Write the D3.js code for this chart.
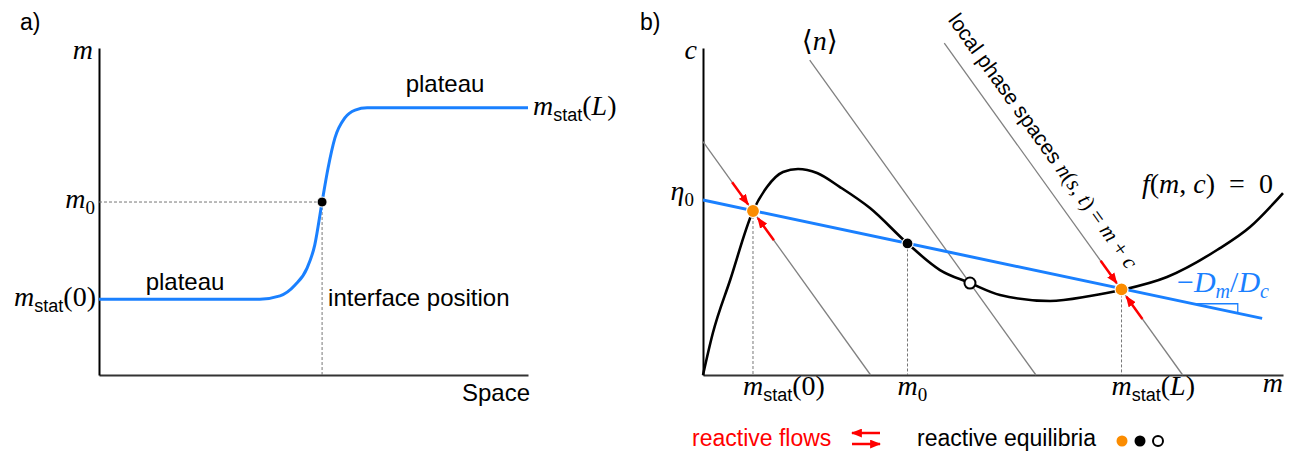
<!DOCTYPE html>
<html>
<head>
<meta charset="utf-8">
<script src="https://cdn.jsdelivr.net/npm/d3@7"></script>
<style>
body { margin: 0; background: #fff; }
.sans { font-family: "Liberation Sans", Arial, sans-serif; font-size: 23px; }
.big { font-size: 24px; }
.mi { font-family: "Liberation Serif", "DejaVu Serif", serif; font-style: italic; font-size: 28px; }
.rm { font-family: "Liberation Serif", "DejaVu Serif", serif; font-style: normal; font-size: 28px; }
.subs { font-family: "Liberation Sans", Arial, sans-serif; font-size: 18px; }
.subr { font-family: "Liberation Serif", serif; font-style: normal; font-size: 19px; }
.subi { font-family: "Liberation Serif", serif; font-style: italic; font-size: 19px; }
.rot .sans { font-size: 21px; }
.rot .mi, .rot .rm { font-size: 22px; }
.slope .mi, .slope .rm { font-size: 30px; }
.slope .subi { font-size: 20px; }
</style>
</head>
<body>
<div id="chart"></div>
<script>
// ---- panel a: interface profile m(x) ----
const profileSpace = [0, 37.5, 42.2, 45.7, 48.5, 50.3, 52.0, 53.4, 55.0, 57.3, 59.7, 62.5, 100];
const profileM = [23.2, 23.2, 24.2, 27.5, 32.7, 39.8, 52.9, 63.3, 72.5, 78.6, 81.0, 81.7, 81.7];
const interfaceSpace = 52.0;
const m0Level = 52.9;

// ---- panel b: phase plane (m, c) ----
const nullclineM = [0, 0.17, 0.47, 0.862, 1.103, 1.379, 1.638, 1.966, 2.362, 2.879, 3.526, 4.086, 4.603, 5.121, 5.983, 6.672, 7.216, 8.0, 8.862, 9.431, 10.0];
const nullclineC = [0, 0.52, 1.18, 2.031, 2.328, 2.514, 2.551, 2.502, 2.328, 2.068, 1.629, 1.300, 1.139, 0.991, 0.917, 0.978, 1.053, 1.214, 1.548, 1.833, 2.254];
const eta0 = 2.167;
const fluxSlope = -0.152;     // -Dm/Dc
const fluxEndM = 9.64;
const slopeMarkM = [8.45, 9.22];
const phaseSpaceN = [2.89, 5.74, 8.27];
const phaseSpaceTopC = [2.89, 3.90, 4.11];
const equilibriaM = [0.862, 3.526, 4.603, 7.216];
const equilibriaC = [2.031, 1.629, 1.139, 1.06];
const equilibriaKind = ["reactive", "mass", "unstable", "reactive"];
const dashedAt = [0, 1, 3];          // equilibria with a drop line to the m axis
const flowAt = [0, 3];               // reactive equilibria with flow arrows
const flowLine = [0, 2];             // ... on these phase spaces

const blue = "#1a80ff", orange = "#fb8c00", red = "#ff0000";

const svg = d3.select("#chart").append("svg")
    .attr("width", 1293)
    .attr("height", 454);

const defs = svg.append("defs");
defs.append("marker")
    .attr("id", "head")
    .attr("viewBox", "0 0 10 8")
    .attr("refX", 9).attr("refY", 4)
    .attr("markerUnits", "userSpaceOnUse")
    .attr("markerWidth", 11).attr("markerHeight", 9)
    .attr("orient", "auto")
    .append("path").attr("d", "M0,0 L10,4 L0,8 z").attr("fill", red);

// small helper for mixed math / text labels
function label(g, x, y, parts, anchor, fill) {
    const t = g.append("text")
        .attr("x", x).attr("y", y)
        .attr("text-anchor", anchor || "start")
        .attr("fill", fill || "#000");
    parts.forEach(p => {
        const s = t.append("tspan").attr("class", p[1]).text(p[0]);
        if (p[2]) s.attr("dy", p[2]);
    });
    return t;
}

// ===================== panel a =====================
const xA = d3.scaleLinear().domain([0, 100]).range([99, 528]);
const yA = d3.scaleLinear().domain([0, 100]).range([375, 48]);
const gA = svg.append("g");

gA.append("g")
    .attr("transform", `translate(0,${yA(0)})`)
    .call(d3.axisBottom(xA).tickValues([]).tickSizeOuter(0))
    .select(".domain").attr("stroke", "#333").attr("stroke-width", 2);
gA.append("g")
    .attr("transform", `translate(${xA(0)},0)`)
    .call(d3.axisLeft(yA).tickValues([]).tickSizeOuter(0))
    .select(".domain").attr("stroke", "#000").attr("stroke-width", 2);

// dashed guides to the interface point
gA.append("line")
    .attr("x1", xA(0)).attr("x2", xA(interfaceSpace))
    .attr("y1", yA(m0Level)).attr("y2", yA(m0Level))
    .attr("stroke", "#777").attr("stroke-width", 1).attr("stroke-dasharray", "3,2");
gA.append("line")
    .attr("x1", xA(interfaceSpace)).attr("x2", xA(interfaceSpace))
    .attr("y1", yA(m0Level)).attr("y2", yA(0))
    .attr("stroke", "#777").attr("stroke-width", 1).attr("stroke-dasharray", "3,2");

const profile = profileSpace.map((s, i) => [s, profileM[i]]);
gA.append("path")
    .datum(profile)
    .attr("fill", "none")
    .attr("stroke", blue)
    .attr("stroke-width", 3)
    .attr("d", d3.line().x(d => xA(d[0])).y(d => yA(d[1])).curve(d3.curveMonotoneX));

gA.append("circle")
    .attr("cx", xA(interfaceSpace)).attr("cy", yA(m0Level)).attr("r", 5)
    .attr("fill", "#000").attr("stroke", "#fff").attr("stroke-width", 1);

label(gA, 20, 30, [["a)", "sans"]]);
label(gA, 93, 59, [["m", "mi"]], "end");
label(gA, 95, yA(m0Level) + 6, [["m", "mi"], ["0", "subr", 6]], "end");
label(gA, 96, yA(profileM[0]) + 7, [["m", "mi"], ["stat", "subs", 6], ["(0)", "rm", -6]], "end");
label(gA, 533, yA(profileM[profileM.length - 1]) + 7, [["m", "mi"], ["stat", "subs", 6], ["(", "rm", -6], ["L", "mi"], [")", "rm"]]);
label(gA, 185, 290, [["plateau", "sans big"]], "middle");
label(gA, 445, 92, [["plateau", "sans big"]], "middle");
label(gA, xA(interfaceSpace) + 6, 306, [["interface position", "sans big"]]);
label(gA, 530, 401, [["Space", "sans big"]], "end");

// ===================== panel b =====================
const xB = d3.scaleLinear().domain([0, 10]).range([703, 1283]);
const yB = d3.scaleLinear().domain([0, 4.05]).range([375, 48]);
const gB = svg.append("g");

gB.append("g")
    .attr("transform", `translate(0,${yB(0)})`)
    .call(d3.axisBottom(xB).tickValues([]).tickSizeOuter(0))
    .select(".domain").attr("stroke", "#333").attr("stroke-width", 2);
gB.append("g")
    .attr("transform", `translate(${xB(0)},0)`)
    .call(d3.axisLeft(yB).tickValues([]).tickSizeOuter(0))
    .select(".domain").attr("stroke", "#000").attr("stroke-width", 2);

// drop lines
gB.selectAll(".drop")
    .data(dashedAt)
    .enter().append("line")
    .attr("class", "drop")
    .attr("x1", i => xB(equilibriaM[i])).attr("x2", i => xB(equilibriaM[i]))
    .attr("y1", i => yB(equilibriaC[i])).attr("y2", yB(0))
    .attr("stroke", "#777").attr("stroke-width", 1).attr("stroke-dasharray", "3,2");

// local phase spaces m + c = n
gB.selectAll(".phase")
    .data(phaseSpaceN)
    .enter().append("line")
    .attr("class", "phase")
    .attr("x1", (n, i) => xB(n - phaseSpaceTopC[i])).attr("y1", (n, i) => yB(phaseSpaceTopC[i]))
    .attr("x2", n => xB(n)).attr("y2", yB(0))
    .attr("stroke", "#808080").attr("stroke-width", 1.3);

// nullcline f(m,c)=0
const nullcline = nullclineM.map((m, i) => [m, nullclineC[i]]);
gB.append("path")
    .datum(nullcline)
    .attr("fill", "none")
    .attr("stroke", "#000")
    .attr("stroke-width", 2.6)
    .attr("d", d3.line().x(d => xB(d[0])).y(d => yB(d[1])).curve(d3.curveMonotoneX));

// flux-balance line
const fluxC = m => eta0 + fluxSlope * m;
gB.append("line")
    .attr("x1", xB(0)).attr("y1", yB(eta0))
    .attr("x2", xB(fluxEndM)).attr("y2", yB(fluxC(fluxEndM)))
    .attr("stroke", blue).attr("stroke-width", 3);

// slope triangle
gB.append("path")
    .attr("d", `M${xB(slopeMarkM[0])},${yB(fluxC(slopeMarkM[0]))}H${xB(slopeMarkM[1])}V${yB(fluxC(slopeMarkM[1]))}`)
    .attr("fill", "none").attr("stroke", blue).attr("stroke-width", 1.3);

// reactive flow arrows along the local phase spaces
flowAt.forEach((k, j) => {
    const n = phaseSpaceN[flowLine[j]];
    const m = equilibriaM[k];
    [[-0.36, -0.085], [0.36, 0.085]].forEach(([a, b]) => {
        gB.append("line")
            .attr("x1", xB(m + a)).attr("y1", yB(n - m - a))
            .attr("x2", xB(m + b)).attr("y2", yB(n - m - b))
            .attr("stroke", red).attr("stroke-width", 2.5)
            .attr("marker-end", "url(#head)");
    });
});

// equilibria
const fillOf = { reactive: orange, mass: "#000", unstable: "#fff" };
gB.selectAll(".eq")
    .data(equilibriaM)
    .enter().append("circle")
    .attr("class", "eq")
    .attr("cx", m => xB(m))
    .attr("cy", (m, i) => yB(equilibriaC[i]))
    .attr("r", (m, i) => equilibriaKind[i] === "reactive" ? 6.5 : 5.5)
    .attr("fill", (m, i) => fillOf[equilibriaKind[i]])
    .attr("stroke", (m, i) => equilibriaKind[i] === "unstable" ? "#000" : "#fff")
    .attr("stroke-width", (m, i) => equilibriaKind[i] === "unstable" ? 2 : 1.2);

// labels
label(gB, 640, 30, [["b)", "sans"]]);
label(gB, 697, 59, [["c", "mi"]], "end");
label(gB, 694, yB(eta0), [["η", "mi"], ["0", "subr", 6]], "end");
label(gB, xB(phaseSpaceN[1] - phaseSpaceTopC[1]) + 10, 50, [["⟨", "rm"], ["n", "mi"], ["⟩", "rm"]], "middle");
label(gB, 1142, 193, [["f", "mi"], ["(", "rm"], ["m", "mi"], [", ", "rm"], ["c", "mi"], [")\u2002=\u20020", "rm"]]);
label(gB.append("g").attr("class", "slope"), 1177, 292, [["−", "rm"], ["D", "mi"], ["m", "subi", 6], ["/", "rm", -6], ["D", "mi"], ["c", "subi", 6]], "start", blue);
label(gB, xB(equilibriaM[0]) - 10, 395, [["m", "mi"], ["stat", "subs", 6], ["(0)", "rm", -6]]);
label(gB, xB(equilibriaM[1]) - 10, 395, [["m", "mi"], ["0", "subr", 6]]);
label(gB, xB(equilibriaM[3]) - 10, 395, [["m", "mi"], ["stat", "subs", 6], ["(", "rm", -6], ["L", "mi"], [")", "rm"]]);
label(gB, 1283, 392, [["m", "mi"]], "end");

// rotated label along the last phase space
const topM = phaseSpaceN[2] - phaseSpaceTopC[2];
const ang = Math.atan2(yB(0) - yB(phaseSpaceTopC[2]), xB(phaseSpaceN[2]) - xB(topM)) * 180 / Math.PI;
const startM = topM - 0.17;
const rot = gB.append("g")
    .attr("class", "rot")
    .attr("transform", `translate(${xB(startM)},${yB(phaseSpaceN[2] - startM)}) rotate(${ang})`);
label(rot, 0, -16, [["local phase spaces ", "sans"], ["n", "mi"], ["(", "rm"], ["s", "mi"], [", ", "rm"], ["t", "mi"], [") = ", "rm"], ["m", "mi"], [" + ", "rm"], ["c", "mi"]]);

// legend
const gL = svg.append("g");
label(gL, 692, 446, [["reactive flows", "sans"]], "start", red);
[[880, 852, 433], [852, 880, 444]].forEach(([a, b, y]) => {
    gL.append("line")
        .attr("x1", a).attr("x2", b).attr("y1", y).attr("y2", y)
        .attr("stroke", red).attr("stroke-width", 2.5)
        .attr("marker-end", "url(#head)");
});
label(gL, 917, 446, [["reactive equilibria", "sans"]]);
["reactive", "mass", "unstable"].forEach((k, i) => {
    gL.append("circle")
        .attr("cx", 1122 + i * 18).attr("cy", 441).attr("r", k === "unstable" ? 5 : 5.5)
        .attr("fill", fillOf[k])
        .attr("stroke", k === "unstable" ? "#000" : "none")
        .attr("stroke-width", 2);
});
</script>
</body>
</html>
